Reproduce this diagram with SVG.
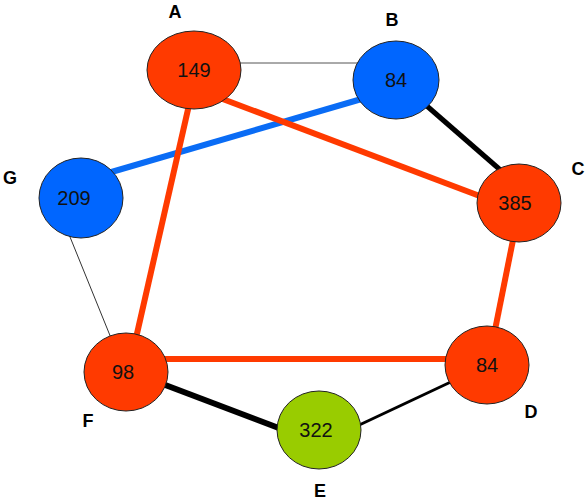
<svg xmlns="http://www.w3.org/2000/svg" width="586" height="502" viewBox="0 0 586 502">
<style>
.node{stroke:#222;stroke-width:1}
.red{fill:#FF3A00}
.blue{fill:#0066FF}
.green{fill:#99CC00}
.num{font-family:"Liberation Sans",Arial,sans-serif;font-size:20px;fill:#111;text-anchor:middle}
.lbl{font-family:"Liberation Sans",Arial,sans-serif;font-size:18px;font-weight:bold;fill:#000;text-anchor:middle}
.e{fill:none;stroke-linecap:butt}
.r{stroke:#FF3A00;stroke-width:6}
</style>
<rect width="586" height="502" fill="#fff"/>
<g id="edges">
<line class="e" x1="235" y1="63" x2="360" y2="63" stroke="#555" stroke-width="1"/>
<line class="e" x1="365" y1="98" x2="108" y2="173" stroke="#0A6CF5" stroke-width="6"/>
<line class="e r" x1="220" y1="98" x2="485" y2="198"/>
<line class="e r" x1="189" y1="105" x2="136" y2="338"/>
<line class="e" x1="420" y1="100" x2="505" y2="174" stroke="#000" stroke-width="5"/>
<line class="e r" x1="514" y1="235" x2="494" y2="335"/>
<line class="e r" x1="160" y1="359" x2="455" y2="359"/>
<line class="e" x1="160" y1="383" x2="284" y2="430" stroke="#000" stroke-width="6"/>
<line class="e" x1="355" y1="427" x2="455" y2="380" stroke="#000" stroke-width="3"/>
<line class="e" x1="68" y1="232" x2="111" y2="338" stroke="#333" stroke-width="1"/>
</g>
<g id="A"><ellipse class="node red" cx="194" cy="70" rx="47" ry="39"/><text class="num" x="194" y="77">149</text><text class="lbl" x="175" y="18">A</text></g>
<g id="B"><ellipse class="node blue" cx="396" cy="80" rx="43" ry="39"/><text class="num" x="396" y="87">84</text><text class="lbl" x="392" y="26">B</text></g>
<g id="C"><ellipse class="node red" cx="519" cy="203" rx="42" ry="39"/><text class="num" x="515" y="210">385</text><text class="lbl" x="578" y="175">C</text></g>
<g id="D"><ellipse class="node red" cx="487" cy="365" rx="42" ry="39"/><text class="num" x="487" y="372">84</text><text class="lbl" x="531" y="418">D</text></g>
<g id="E"><ellipse class="node green" cx="319" cy="430" rx="42" ry="39"/><text class="num" x="316" y="437">322</text><text class="lbl" x="320" y="497">E</text></g>
<g id="F"><ellipse class="node red" cx="126" cy="372" rx="42" ry="39"/><text class="num" x="123" y="379">98</text><text class="lbl" x="88" y="427">F</text></g>
<g id="G"><ellipse class="node blue" cx="81" cy="198" rx="42" ry="40"/><text class="num" x="74" y="205">209</text><text class="lbl" x="10" y="184">G</text></g>
</svg>
